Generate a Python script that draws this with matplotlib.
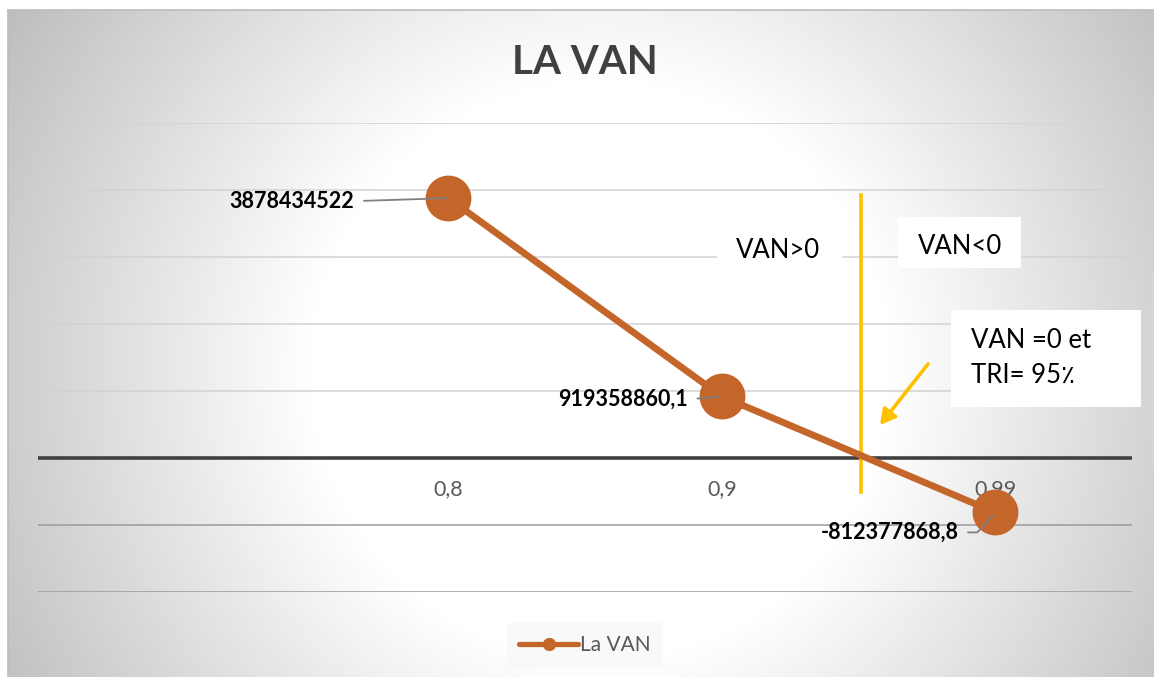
import numpy as np
import matplotlib
matplotlib.use("Agg")
import matplotlib.pyplot as plt
from matplotlib.lines import Line2D
from matplotlib.patches import Rectangle, FancyArrowPatch

plt.rcParams['font.family'] = ['Lato', 'DejaVu Sans']

# ---------------- data ----------------
categories = ["", "0,8", "0,9", "0,99"]
van_values = [np.nan, 3878434522, 919358860.1, -812377868.8]
value_labels = ["", "3878434522", "919358860,1", "-812377868,8"]
y_ticks = [-2e9, -1e9, 0, 1e9, 2e9, 3e9, 4e9, 5e9]
title_text = "LA VAN"
series_name = "La VAN"
note_pos = "VAN>0"
note_neg = "VAN<0"
note_tri = "VAN =0 et\nTRI= 95\u066A"

W, H = 1154, 677
ORANGE = "#C4652A"
YELLOW = "#FFC000"


def px(x, y):
    return (x / W, 1 - y / H)


fig = plt.figure(figsize=(W / 100, H / 100), dpi=100)

# ---------------- background (radial gradient) ----------------
yy, xx = np.mgrid[0:H, 0:W]
d = np.hypot(xx - 600, (yy - 370) * 1.0)
val = np.clip(255 - np.clip(d - 290, 0, None) * (65 / 400), 190, 255) / 255
img = np.dstack([val] * 3)
img[(xx < 8) | (yy < 10)] = 1.0
bg = fig.add_axes([0, 0, 1, 1], zorder=-5)
bg.imshow(img, extent=[0, W, H, 0], aspect='auto', interpolation='bilinear')
bg.plot([8, 8], [10, H], color="#bcbcbc", lw=1.2)
bg.plot([8, W], [10, 10], color="#bcbcbc", lw=1.2)
bg.set_xlim(0, W)
bg.set_ylim(H, 0)
bg.axis('off')

# ---------------- main axes ----------------
ax = fig.add_axes([38 / W, 1 - 592 / H, (1132 - 38) / W, (592 - 123) / H])
ax.patch.set_alpha(0)
x = np.arange(len(categories))
ax.plot(x, van_values, color=ORANGE, lw=4.9, marker='o', ms=32,
        solid_capstyle='round', zorder=5)
ax.set_xlim(-0.5, len(categories) - 0.5)
ax.set_ylim(min(y_ticks), max(y_ticks))
ax.set_yticks(y_ticks)
ax.tick_params(axis='y', length=0, labelleft=False)
ax.set_axisbelow(True)
ax.grid(axis='y', lw=1.1)
for tv, gl in zip(y_ticks, ax.get_ygridlines()):
    gl.set_color("#d2d2d2" if tv > 0 else "#9a9a9a")
    if tv == 0:
        gl.set_visible(False)
for s in ['left', 'right', 'top']:
    ax.spines[s].set_visible(False)
ax.spines['bottom'].set_position(('data', 0))
ax.spines['bottom'].set_color("#404040")
ax.spines['bottom'].set_linewidth(2.6)
ax.spines['bottom'].set_capstyle('butt')
ax.set_xticks(x)
ax.set_xticklabels(categories, fontsize=15.5, color="#595959")
ax.tick_params(axis='x', length=0, pad=15)

# data labels with leader lines
offsets = [None, (-94, -3), (-34, -3), (-37, -20)]
for xi, v, lab, off in zip(x, van_values, value_labels, offsets):
    if off is None or np.isnan(v):
        continue
    cs = "arc3" if off[1] > -10 else "angle,angleA=0,angleB=48,rad=0"
    ax.annotate(lab, xy=(xi, v), xytext=off, textcoords='offset pixels',
                ha='right', va='center', fontsize=15.5, fontweight='bold',
                color='black', zorder=7,
                arrowprops=dict(arrowstyle='-', color='#7f7f7f', lw=1.3,
                                shrinkA=5, shrinkB=1 if off[0] < -50 else 2,
                                relpos=(1, 0.5), connectionstyle=cs))

# yellow vertical separator (under the series line)
ax.add_line(Line2D([861 / W, 861 / W], [1 - 195 / H, 1 - 492 / H],
                   transform=fig.transFigure, color=YELLOW, lw=2.6,
                   zorder=4, clip_on=False))

# ---------------- annotations ----------------
boxes = [((717, 222), 125, 58), ((898, 217), 123, 51), ((951, 310), 190, 97)]
for (bx, by), bw, bh in boxes:
    fig.add_artist(Rectangle(px(bx, by + bh), bw / W, bh / H,
                             transform=fig.transFigure, facecolor='white',
                             edgecolor='none', zorder=2))
fig.text(*px(778, 251), note_pos, ha='center', va='center', fontsize=18.5,
         color='black', zorder=3)
fig.text(*px(960, 247), note_neg, ha='center', va='center', fontsize=18.5,
         color='black', zorder=3)
fig.text(*px(971, 358), note_tri, ha='left', va='center', fontsize=18.5,
         color='black', linespacing=1.5, zorder=3)

fig.add_artist(FancyArrowPatch(px(928, 364), px(880, 425),
                               transform=fig.transFigure,
                               arrowstyle='-|>,head_length=9,head_width=5',
                               color=YELLOW, lw=2.6, shrinkA=0, shrinkB=0,
                               zorder=3))

# title
fig.text(*px(585, 62), title_text, ha='center', va='center', fontsize=29,
         fontweight='bold', color="#404040")

# legend
handle = Line2D([], [], color=ORANGE, lw=3.8, marker='o', ms=8.5,
                solid_capstyle='round')
leg = fig.legend([handle], [series_name], loc='center',
                 bbox_to_anchor=px(585, 645), fontsize=15, frameon=True,
                 handlelength=2.8, handletextpad=0.1, borderpad=0.6,
                 fancybox=False)
leg.get_frame().set_facecolor("#f8f8f8")
leg.get_frame().set_edgecolor("none")
for t in leg.get_texts():
    t.set_color("#595959")

fig.savefig("out.png", dpi=100)
